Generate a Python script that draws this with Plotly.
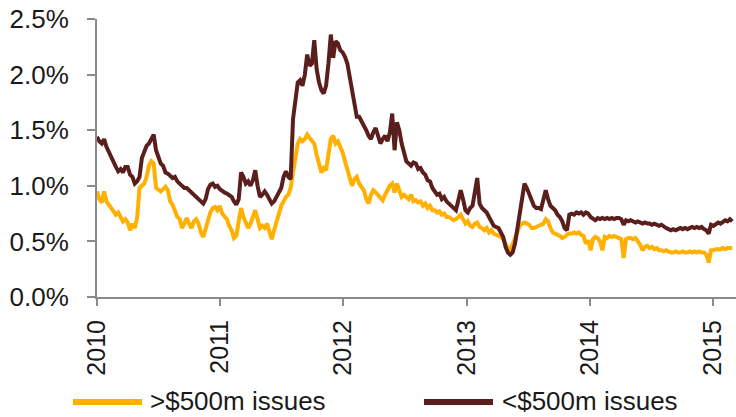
import pandas as pd
import plotly.graph_objects as go

# Weekly observations starting 2010-01-01 (values in %)
start_date = "2010-01-01"

small_issues = [  # <$500m issues
    1.44,1.40,1.38,1.42,1.35,1.30,1.26,1.20,1.17,1.13,1.15,1.12,1.17,
    1.17,1.10,1.08,1.02,1.04,1.08,1.25,1.32,1.36,1.38,1.42,1.46,1.32,
    1.25,1.20,1.18,1.12,1.11,1.09,1.07,1.08,1.04,1.02,1.00,0.98,0.98,
    0.96,0.94,0.93,0.90,0.89,0.86,0.84,0.88,0.97,1.01,1.02,0.99,1.00,
    0.97,0.95,0.94,0.93,0.92,0.90,0.86,0.83,0.88,1.12,1.08,1.02,1.04,
    1.00,1.05,1.14,1.00,0.90,0.92,0.95,0.92,0.88,0.84,0.86,0.90,0.93,
    0.98,1.08,1.13,1.08,1.06,1.60,1.74,1.93,1.95,1.90,2.00,2.18,2.08,
    2.10,2.31,2.05,1.93,1.86,1.83,1.90,2.10,2.36,2.15,2.30,2.28,2.22,
    2.20,2.16,2.10,1.98,1.82,1.70,1.62,1.62,1.58,1.55,1.50,1.45,1.42,
    1.48,1.52,1.45,1.38,1.42,1.45,1.40,1.48,1.65,1.32,1.57,1.50,1.38,
    1.28,1.22,1.20,1.18,1.21,1.20,1.15,1.16,1.12,1.10,1.05,1.04,0.98,
    0.95,0.92,0.93,0.88,0.90,0.86,0.84,0.82,0.80,0.78,0.87,0.96,0.88,
    0.78,0.76,0.80,0.82,0.95,1.07,0.84,0.80,0.78,0.76,0.72,0.68,0.64,
    0.63,0.62,0.58,0.54,0.45,0.40,0.38,0.40,0.48,0.62,0.78,0.92,1.02,
    0.98,0.93,0.88,0.82,0.80,0.80,0.79,0.86,0.96,0.88,0.82,0.80,0.78,
    0.74,0.72,0.68,0.62,0.60,0.74,0.75,0.74,0.76,0.75,0.76,0.74,0.76,
    0.75,0.72,0.70,0.69,0.71,0.70,0.71,0.70,0.71,0.70,0.71,0.70,0.71,
    0.71,0.70,0.65,0.69,0.68,0.69,0.68,0.67,0.68,0.67,0.66,0.67,0.66,
    0.66,0.65,0.66,0.65,0.64,0.65,0.63,0.62,0.61,0.60,0.61,0.60,0.61,
    0.62,0.61,0.62,0.61,0.62,0.63,0.62,0.63,0.62,0.63,0.61,0.60,0.57,
    0.65,0.64,0.66,0.67,0.66,0.68,0.69,0.68,0.70,0.68,
]

large_issues = [  # >$500m issues
    0.95,0.88,0.85,0.95,0.86,0.83,0.80,0.78,0.74,0.76,0.72,0.68,0.70,
    0.67,0.60,0.66,0.62,0.71,0.98,1.00,1.02,1.08,1.18,1.22,1.20,0.98,
    0.96,0.95,0.97,0.99,0.96,0.86,0.83,0.76,0.72,0.70,0.62,0.66,0.71,
    0.66,0.62,0.68,0.70,0.66,0.58,0.54,0.62,0.70,0.76,0.80,0.81,0.78,
    0.82,0.75,0.72,0.70,0.64,0.60,0.53,0.55,0.68,0.80,0.72,0.66,0.62,
    0.66,0.72,0.78,0.70,0.62,0.64,0.62,0.66,0.58,0.52,0.60,0.68,0.76,
    0.82,0.86,0.90,0.92,0.98,1.12,1.26,1.38,1.42,1.40,1.42,1.46,1.43,
    1.40,1.38,1.28,1.18,1.12,1.16,1.14,1.28,1.42,1.45,1.38,1.40,1.35,
    1.30,1.22,1.14,1.08,1.00,1.06,1.08,1.02,0.99,0.96,0.88,0.84,0.92,
    0.96,0.94,0.92,0.90,0.87,0.92,0.96,1.00,1.02,0.94,1.02,0.96,0.90,
    0.92,0.90,0.88,0.92,0.86,0.87,0.85,0.86,0.82,0.84,0.80,0.82,0.78,
    0.78,0.76,0.77,0.74,0.75,0.72,0.72,0.70,0.69,0.70,0.72,0.74,0.70,
    0.66,0.68,0.64,0.63,0.66,0.67,0.63,0.62,0.60,0.62,0.58,0.60,0.57,
    0.56,0.55,0.54,0.52,0.48,0.44,0.42,0.48,0.52,0.58,0.64,0.66,0.67,
    0.66,0.65,0.62,0.62,0.63,0.64,0.65,0.66,0.70,0.68,0.62,0.58,0.57,
    0.56,0.55,0.53,0.54,0.56,0.57,0.57,0.58,0.57,0.58,0.56,0.55,0.48,
    0.51,0.42,0.52,0.54,0.53,0.50,0.42,0.54,0.53,0.55,0.54,0.55,0.54,
    0.53,0.52,0.35,0.52,0.53,0.53,0.52,0.53,0.50,0.47,0.42,0.45,0.46,
    0.44,0.45,0.43,0.44,0.42,0.42,0.41,0.42,0.41,0.40,0.40,0.41,0.40,
    0.40,0.41,0.40,0.40,0.41,0.40,0.41,0.40,0.41,0.40,0.40,0.38,0.31,
    0.42,0.42,0.43,0.43,0.43,0.44,0.43,0.44,0.44,0.44,
]

year_ticks = ["2010", "2011", "2012", "2013", "2014", "2015"]
y_ticks = [0.0, 0.5, 1.0, 1.5, 2.0, 2.5]
series_names = [">$500m issues", "<$500m issues"]

ORANGE = "#FFB000"
MAROON = "#5A1F1D"
AXIS = "#8A8A8A"
TEXT = "#1A1A1A"
FONT = "Arial, Liberation Sans, sans-serif"

dates = pd.date_range(start_date, periods=len(small_issues), freq="7D")

fig = go.Figure()
fig.add_trace(go.Scatter(x=dates, y=large_issues, mode="lines",
                         line=dict(color=ORANGE, width=4), name=series_names[0],
                         showlegend=False))
fig.add_trace(go.Scatter(x=dates, y=small_issues, mode="lines",
                         line=dict(color=MAROON, width=4), name=series_names[1],
                         showlegend=False))

W, H = 736, 417
L, R, T, B = 97, 0, 19, 120
pw, ph = W - L - R, H - T - B

def px(xp):
    return (xp - L) / pw

def py(yp):
    return (H - B - yp) / ph

# Manual legend (long line swatches)
legend_items = [(73, 142, 148, ORANGE, series_names[0]),
                (424, 493, 500, MAROON, series_names[1])]
for x0, x1, xt, col, name in legend_items:
    fig.add_shape(type="line", xref="paper", yref="paper",
                  x0=px(x0), x1=px(x1), y0=py(402), y1=py(402),
                  line=dict(color=col, width=6))
    fig.add_annotation(xref="paper", yref="paper", x=px(xt), y=py(401),
                       text=name, showarrow=False, xanchor="left", yanchor="middle",
                       font=dict(family=FONT, size=26, color=TEXT))

fig.update_layout(
    width=W, height=H,
    margin=dict(l=L, r=R, t=T, b=B, autoexpand=False),
    paper_bgcolor="white", plot_bgcolor="white",
    font=dict(family=FONT, size=25, color=TEXT),
    showlegend=False,
)
fig.update_xaxes(
    type="date", automargin=False,
    range=["2010-01-01", "2015-03-10"],
    tickvals=[f"{y}-01-01" for y in year_ticks],
    ticktext=year_ticks,
    tickangle=-90,
    showgrid=False, zeroline=False,
    showline=True, linecolor=AXIS, linewidth=2,
    ticks="outside", ticklen=7, tickwidth=2, tickcolor=AXIS,
    tickfont=dict(family=FONT, size=25, color=TEXT),
    ticklabelstandoff=4,
)
fig.update_yaxes(
    automargin=False,
    range=[0, 2.5],
    tickvals=y_ticks,
    ticktext=[f"{v:.1f}%" for v in y_ticks],
    showgrid=False, zeroline=False,
    showline=True, linecolor=AXIS, linewidth=2,
    ticks="outside", ticklen=8, tickwidth=2, tickcolor=AXIS,
    tickfont=dict(family=FONT, size=26, color=TEXT),
    ticklabelstandoff=13,
)

fig.write_html("out.html", config={"displayModeBar": False},
               post_script="document.body.style.margin='0';document.body.style.overflow='hidden';")
